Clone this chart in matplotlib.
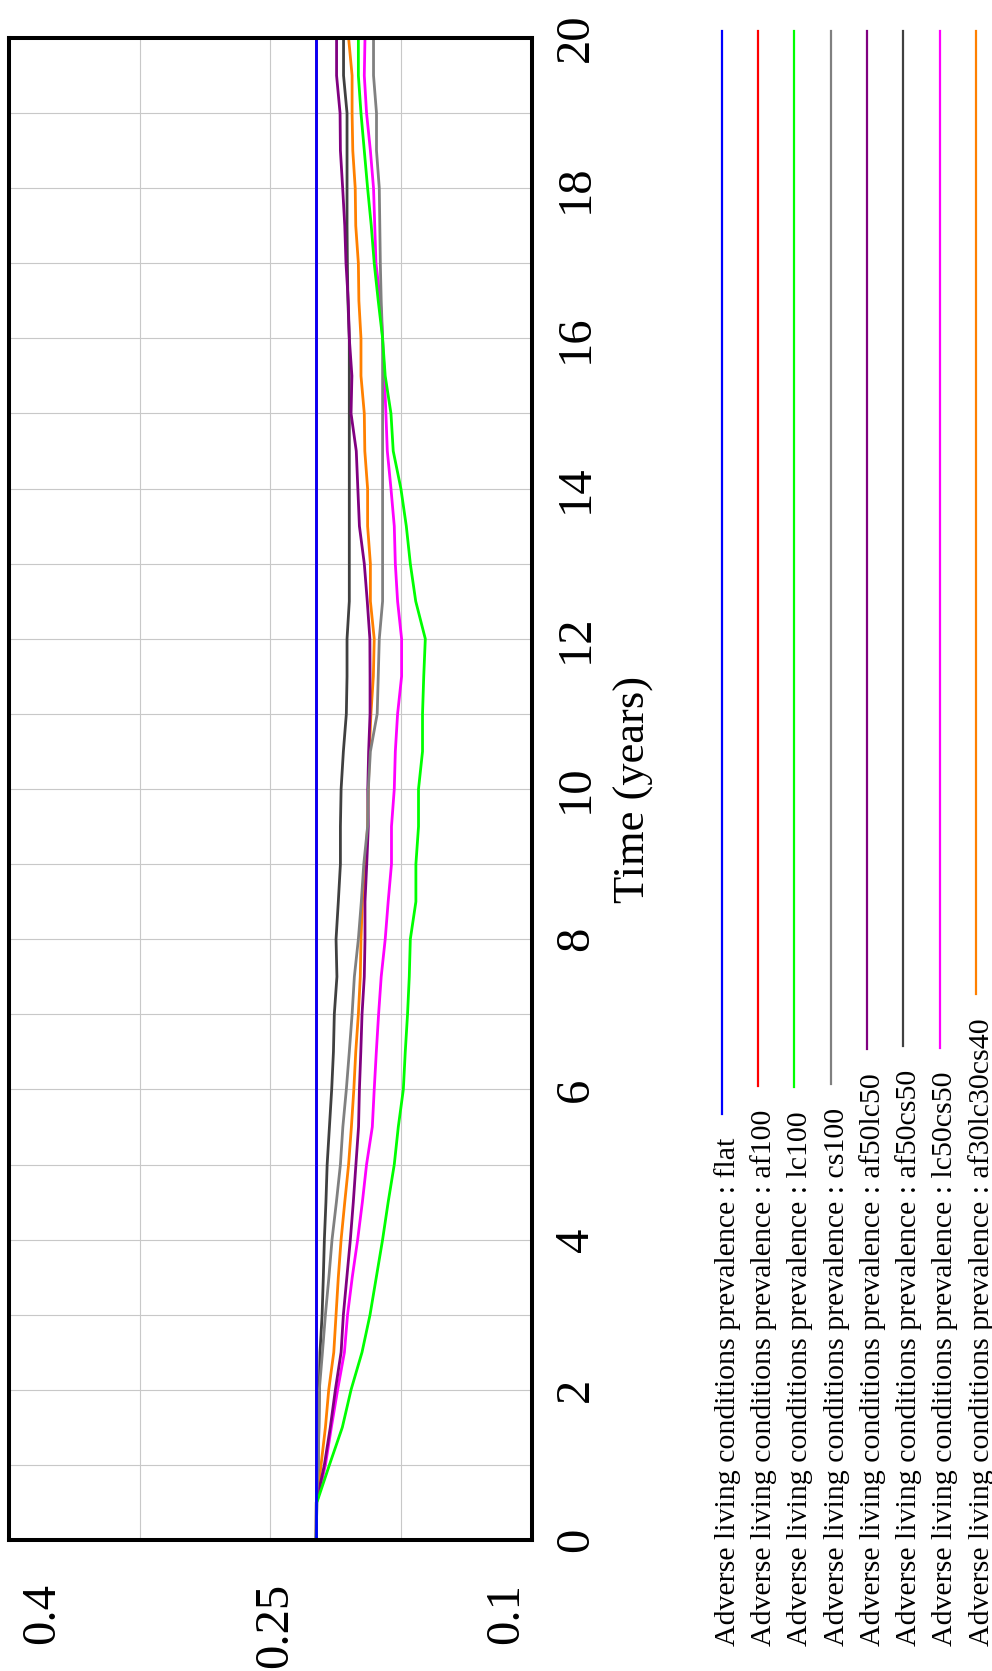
import matplotlib
matplotlib.use('Agg')
import matplotlib.pyplot as plt
from matplotlib.transforms import blended_transform_factory, offset_copy
from matplotlib.lines import Line2D

plt.rcParams['font.family'] = ['Liberation Serif', 'DejaVu Serif']

# ---------------- data ----------------
time = [0, 0.5, 1, 1.5, 2, 2.5, 3, 3.5, 4, 4.5, 5, 5.5, 6, 6.5, 7, 7.5, 8, 8.5, 9, 9.5,
        10, 10.5, 11, 11.5, 12, 12.5, 13, 13.5, 14, 14.5, 15, 15.5, 16, 16.5, 17, 17.5,
        18, 18.5, 19, 19.5, 20]
time_flat = [0, 20]

flat = [0.2238, 0.2238]
af100 = [0.2238, 0.2238]
lc100 = [0.2238, 0.2234, 0.2162, 0.2088, 0.2038, 0.1975, 0.1929, 0.1893, 0.1857, 0.1825,
         0.1790, 0.1767, 0.1738, 0.1727, 0.1714, 0.1704, 0.1698, 0.1666, 0.1666, 0.1651,
         0.1651, 0.1628, 0.1628, 0.1621, 0.1612, 0.1667, 0.1698, 0.1721, 0.1752, 0.1796,
         0.1809, 0.1842, 0.1857, 0.1882, 0.1905, 0.1922, 0.1943, 0.1962, 0.1981, 0.1996,
         0.1996]
cs100 = [0.2238, 0.2237, 0.2225, 0.2224, 0.2220, 0.2202, 0.2185, 0.2165, 0.2147, 0.2122,
         0.2099, 0.2085, 0.2065, 0.2048, 0.2032, 0.2019, 0.1996, 0.1979, 0.1965, 0.1943,
         0.1939, 0.1927, 0.1888, 0.1882, 0.1876, 0.1857, 0.1857, 0.1857, 0.1857, 0.1857,
         0.1857, 0.1857, 0.1857, 0.1865, 0.1870, 0.1873, 0.1876, 0.1892, 0.1892, 0.1909,
         0.1909]
af50lc50 = [0.2238, 0.2237, 0.2191, 0.2157, 0.2128, 0.2095, 0.2082, 0.2062, 0.2042, 0.2025,
            0.2010, 0.1995, 0.1990, 0.1982, 0.1975, 0.1962, 0.1958, 0.1958, 0.1948, 0.1939,
            0.1942, 0.1937, 0.1929, 0.1929, 0.1930, 0.1945, 0.1962, 0.1990, 0.1999, 0.2008,
            0.2038, 0.2033, 0.2048, 0.2054, 0.2067, 0.2074, 0.2086, 0.2099, 0.2101, 0.2121,
            0.2121]
af50cs50 = [0.2238, 0.2237, 0.2228, 0.2222, 0.2220, 0.2216, 0.2204, 0.2197, 0.2191, 0.2182,
            0.2175, 0.2162, 0.2149, 0.2139, 0.2134, 0.2119, 0.2124, 0.2111, 0.2099, 0.2099,
            0.2095, 0.2082, 0.2065, 0.2061, 0.2061, 0.2048, 0.2048, 0.2048, 0.2048, 0.2048,
            0.2048, 0.2048, 0.2048, 0.2056, 0.2059, 0.2061, 0.2061, 0.2061, 0.2061, 0.2081,
            0.2081]
lc50cs50 = [0.2238, 0.2234, 0.2185, 0.2151, 0.2115, 0.2076, 0.2058, 0.2031, 0.2000, 0.1973,
            0.1949, 0.1916, 0.1905, 0.1893, 0.1880, 0.1865, 0.1842, 0.1825, 0.1806, 0.1806,
            0.1790, 0.1784, 0.1771, 0.1748, 0.1748, 0.1771, 0.1784, 0.1790, 0.1809, 0.1830,
            0.1838, 0.1847, 0.1857, 0.1870, 0.1895, 0.1902, 0.1909, 0.1927, 0.1949, 0.1962,
            0.1958]
af30lc30cs40 = [0.2238, 0.2237, 0.2210, 0.2185, 0.2166, 0.2137, 0.2124, 0.2111, 0.2095, 0.2074,
                0.2052, 0.2036, 0.2022, 0.2011, 0.1996, 0.1985, 0.1981, 0.1973, 0.1956, 0.1943,
                0.1939, 0.1933, 0.1924, 0.1910, 0.1905, 0.1927, 0.1927, 0.1943, 0.1943, 0.1959,
                0.1962, 0.1981, 0.1981, 0.1993, 0.1996, 0.2011, 0.2014, 0.2028, 0.2032, 0.2032,
                0.2052]

series_names = ['flat', 'af100', 'lc100', 'cs100', 'af50lc50', 'af50cs50', 'lc50cs50', 'af30lc30cs40']
series_vals = [flat, af100, lc100, cs100, af50lc50, af50cs50, lc50cs50, af30lc30cs40]
series_time = [time_flat, time_flat, time, time, time, time, time, time]
colors = ['#0000ff', '#ff0000', '#00ff00', '#808080', '#800080', '#404040', '#ff00ff', '#ff8000']

value_ticks = [0.4, 0.25, 0.1]
value_tick_labels = ['0.4', '0.25', '0.1']
value_grid = [0.325, 0.25, 0.175]
time_ticks = [0, 2, 4, 6, 8, 10, 12, 14, 16, 18, 20]
time_grid = list(range(1, 20))
label_prefix = 'Adverse living conditions prevalence : '

# ---------------- figure ----------------
W, H = 992, 1671
fig = plt.figure(figsize=(W / 100, H / 100), dpi=100)
ax = fig.add_axes([9 / W, (H - 1540) / H, 523 / W, 1502 / H])

order_z = [20, 12, 18, 17, 16, 15, 14, 13]
for t, v, c, z in zip(series_time, series_vals, colors, order_z):
    ax.plot(v, t, color=c, lw=2.0, zorder=z, solid_joinstyle='round')

ax.set_xlim(0.4, 0.1)
ax.set_ylim(0, 20)
ax.set_xticks(value_grid)
ax.set_yticks(time_grid)
ax.grid(True, color='#c8c8c8', lw=0.8, zorder=0)
ax.tick_params(length=0, labelbottom=False, labelleft=False)
for s in ax.spines.values():
    s.set_linewidth(2.9)
    s.set_color('black')
    s.set_zorder(30)

# value labels (bottom, rotated)
btrans = blended_transform_factory(ax.transData, ax.transAxes)
dxs = [45, 17, -14]
for v, lab, dx in zip(value_ticks, value_tick_labels, dxs):
    tr = offset_copy(btrans, fig=fig, x=dx, y=-43, units='dots')
    ax.text(v, 0, lab, transform=tr, rotation=90, rotation_mode='anchor',
            ha='right', va='baseline', fontsize=35, clip_on=False)

# time labels (right side, rotated)
rtrans = blended_transform_factory(ax.transAxes, ax.transData)
trr = offset_copy(rtrans, fig=fig, x=56, y=0, units='dots')
for t in time_ticks:
    ax.text(1, t, str(t), transform=trr, rotation=90, rotation_mode='anchor',
            ha='center', va='baseline', fontsize=35, clip_on=False)

tra = offset_copy(rtrans, fig=fig, x=113, y=0, units='dots')
ax.text(1, 10, 'Time (years)', transform=tra, rotation=90, rotation_mode='anchor',
        ha='center', va='baseline', fontsize=32, clip_on=False)

# legend (rotated)
texts = []
for i, (name, c) in enumerate(zip(series_names, colors)):
    lx = 721.7 + 36.3 * i
    txt = fig.text((lx + 13) / W, 1 - 1646 / H, label_prefix + name, rotation=90,
                   rotation_mode='anchor', ha='left', va='baseline', fontsize=21.5)
    texts.append((txt, lx, c))

fig.canvas.draw()
renderer = fig.canvas.get_renderer()
for txt, lx, c in texts:
    bb = txt.get_window_extent(renderer)
    y_top_disp = H - 31
    y_bot_disp = bb.y1 + 24
    fig.add_artist(Line2D([lx / W, lx / W], [y_top_disp / H, y_bot_disp / H],
                          transform=fig.transFigure, color=c, lw=1.6))

fig.savefig('out.png', dpi=100)
